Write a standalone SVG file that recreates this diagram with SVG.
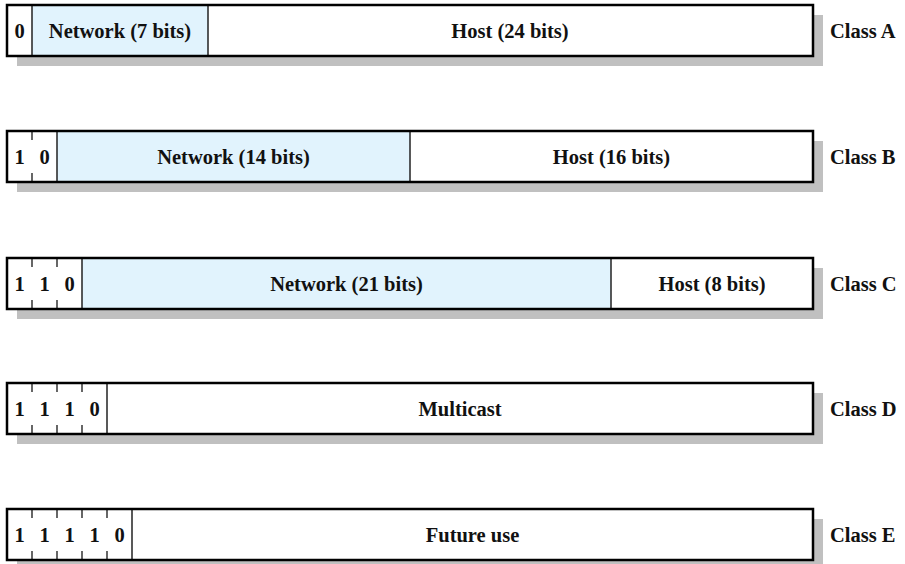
<svg xmlns="http://www.w3.org/2000/svg" width="905" height="564" viewBox="0 0 905 564">
<style>
.shadow{fill:#c0c0c0}
.box{fill:#fff;stroke:none}
.net{fill:#e1f3fd}
.frame{fill:none;stroke:#000;stroke-width:2.5}
.div{stroke:#222;stroke-width:1.5}
.tick{stroke:#000;stroke-width:1.2}
.c{text-anchor:middle}
</style>
<rect width="905" height="564" fill="#fff"/>
<g font-family="Liberation Serif, DejaVu Serif, Times New Roman, serif" font-weight="bold" font-size="20.5" fill="#111">
<g id="classA">
<rect class="shadow" x="17" y="15" width="806" height="51"/>
<rect class="box" x="7" y="5" width="806" height="51"/>
<rect class="net" x="32" y="5" width="176" height="51"/>
<line class="div" x1="32" y1="5" x2="32" y2="56"/>
<line class="div" x1="208" y1="5" x2="208" y2="56"/>
<rect class="frame" x="7" y="5" width="806" height="51"/>
<text class="c" x="19.5" y="37.5">0</text>
<text class="c" x="120" y="37.5">Network (7 bits)</text>
<text class="c" x="510" y="37.5">Host (24 bits)</text>
<text x="830" y="37.5">Class A</text>
</g>
<g id="classB">
<rect class="shadow" x="17" y="141" width="806" height="51"/>
<rect class="box" x="7" y="131" width="806" height="51"/>
<rect class="net" x="57" y="131" width="353" height="51"/>
<line class="tick" x1="32" y1="131" x2="32" y2="140"/>
<line class="tick" x1="32" y1="173" x2="32" y2="182"/>
<line class="div" x1="57" y1="131" x2="57" y2="182"/>
<line class="div" x1="410" y1="131" x2="410" y2="182"/>
<rect class="frame" x="7" y="131" width="806" height="51"/>
<text class="c" x="19.5" y="163.5">1</text>
<text class="c" x="44.5" y="163.5">0</text>
<text class="c" x="233.5" y="163.5">Network (14 bits)</text>
<text class="c" x="611.5" y="163.5">Host (16 bits)</text>
<text x="830" y="163.5">Class B</text>
</g>
<g id="classC">
<rect class="shadow" x="17" y="268" width="806" height="51"/>
<rect class="box" x="7" y="258" width="806" height="51"/>
<rect class="net" x="82" y="258" width="529" height="51"/>
<line class="tick" x1="32" y1="258" x2="32" y2="267"/>
<line class="tick" x1="32" y1="300" x2="32" y2="309"/>
<line class="tick" x1="57" y1="258" x2="57" y2="267"/>
<line class="tick" x1="57" y1="300" x2="57" y2="309"/>
<line class="div" x1="82" y1="258" x2="82" y2="309"/>
<line class="div" x1="611" y1="258" x2="611" y2="309"/>
<rect class="frame" x="7" y="258" width="806" height="51"/>
<text class="c" x="19.5" y="290.5">1</text>
<text class="c" x="44.5" y="290.5">1</text>
<text class="c" x="69.5" y="290.5">0</text>
<text class="c" x="346.5" y="290.5">Network (21 bits)</text>
<text class="c" x="712" y="290.5">Host (8 bits)</text>
<text x="830" y="290.5">Class C</text>
</g>
<g id="classD">
<rect class="shadow" x="17" y="393" width="806" height="51"/>
<rect class="box" x="7" y="383" width="806" height="51"/>
<line class="tick" x1="32" y1="383" x2="32" y2="392"/>
<line class="tick" x1="32" y1="425" x2="32" y2="434"/>
<line class="tick" x1="57" y1="383" x2="57" y2="392"/>
<line class="tick" x1="57" y1="425" x2="57" y2="434"/>
<line class="tick" x1="82" y1="383" x2="82" y2="392"/>
<line class="tick" x1="82" y1="425" x2="82" y2="434"/>
<line class="div" x1="107" y1="383" x2="107" y2="434"/>
<rect class="frame" x="7" y="383" width="806" height="51"/>
<text class="c" x="19.5" y="415.5">1</text>
<text class="c" x="44.5" y="415.5">1</text>
<text class="c" x="69.5" y="415.5">1</text>
<text class="c" x="94.5" y="415.5">0</text>
<text class="c" x="460" y="415.5">Multicast</text>
<text x="830" y="415.5">Class D</text>
</g>
<g id="classE">
<rect class="shadow" x="17" y="519" width="806" height="51"/>
<rect class="box" x="7" y="509" width="806" height="51"/>
<line class="tick" x1="32" y1="509" x2="32" y2="518"/>
<line class="tick" x1="32" y1="551" x2="32" y2="560"/>
<line class="tick" x1="57" y1="509" x2="57" y2="518"/>
<line class="tick" x1="57" y1="551" x2="57" y2="560"/>
<line class="tick" x1="82" y1="509" x2="82" y2="518"/>
<line class="tick" x1="82" y1="551" x2="82" y2="560"/>
<line class="tick" x1="107" y1="509" x2="107" y2="518"/>
<line class="tick" x1="107" y1="551" x2="107" y2="560"/>
<line class="div" x1="132" y1="509" x2="132" y2="560"/>
<rect class="frame" x="7" y="509" width="806" height="51"/>
<text class="c" x="19.5" y="541.5">1</text>
<text class="c" x="44.5" y="541.5">1</text>
<text class="c" x="69.5" y="541.5">1</text>
<text class="c" x="94.5" y="541.5">1</text>
<text class="c" x="119.5" y="541.5">0</text>
<text class="c" x="472.5" y="541.5">Future use</text>
<text x="830" y="541.5">Class E</text>
</g>
</g>
</svg>
